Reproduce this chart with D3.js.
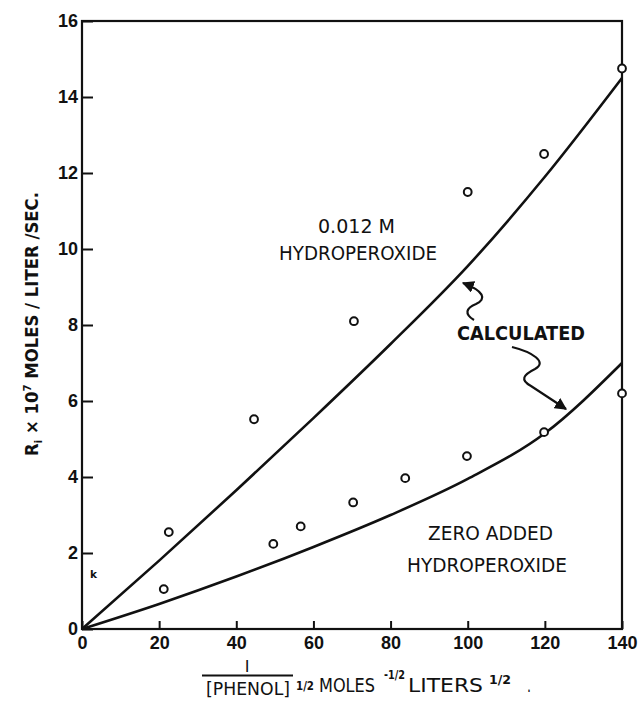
<!DOCTYPE html>
<html>
<head>
<meta charset="utf-8">
<script src="https://cdn.jsdelivr.net/npm/d3@7"></script>
<style>
  body { margin: 0; background: #fff; }
  svg { display: block; }
  .axis text { font-family: "Liberation Sans", Arial, sans-serif; font-weight: bold; font-size: 17px; fill: #111; }
  .axis line { stroke: #111; stroke-width: 2; }
  .lbl { font-family: "DejaVu Sans", "Liberation Sans", sans-serif; fill: #111; }
</style>
</head>
<body>
<div id="chart"></div>
<script>
// axis ticks
var xTicks = [0, 20, 40, 60, 80, 100, 120, 140];
var yTicks = [0, 2, 4, 6, 8, 10, 12, 14, 16];

// measured points, 0.012 M hydroperoxide
var hydroX = [22.5, 44.6, 70.5, 100, 119.8, 140];
var hydroY = [2.55, 5.52, 8.1, 11.5, 12.5, 14.75];

// measured points, zero added hydroperoxide
var zeroX = [21.2, 49.6, 56.7, 70.3, 83.8, 99.8, 119.8, 140];
var zeroY = [1.05, 2.24, 2.7, 3.33, 3.97, 4.55, 5.18, 6.2];

// calculated curves
var calcX = [0, 20, 40, 60, 80, 100, 120, 140];
var calcHydro = [0, 1.8, 3.65, 5.55, 7.5, 9.55, 11.9, 14.5];
var calcZero = [0, 0.66, 1.38, 2.16, 3.0, 3.95, 5.15, 7.0];

var W = 639, H = 701;
var margin = {top: 21, right: 17, bottom: 72, left: 82};
var width = W - margin.left - margin.right,
    height = H - margin.top - margin.bottom;

var svg = d3.select('#chart').append('svg')
  .attr('width', W)
  .attr('height', H);

var defs = svg.append('defs');
defs.append('marker')
  .attr('id', 'head')
  .attr('viewBox', '0 0 10 10')
  .attr('refX', 9).attr('refY', 5)
  .attr('markerWidth', 5.5).attr('markerHeight', 5.5)
  .attr('markerUnits', 'strokeWidth')
  .attr('orient', 'auto')
  .append('path')
  .attr('d', 'M0,0 L10,5 L0,10 z')
  .attr('fill', '#111');

var g = svg.append('g')
  .attr('transform', 'translate(' + margin.left + ',' + margin.top + ')');

// scales
var x = d3.scaleLinear().domain([0, 140]).range([0, width]);
var y = d3.scaleLinear().domain([0, 16]).range([height, 0]);

// x axis, ticks pointing inward
g.append('g')
  .attr('class', 'x-axis axis')
  .attr('transform', 'translate(0,' + height + ')')
  .call(d3.axisBottom(x).tickValues(xTicks).tickSize(-8).tickSizeOuter(0).tickPadding(7))
  .call(function(s) { s.select('.domain').remove(); })
  .selectAll('text').style('font-size', '18px');

// y axis
g.append('g')
  .attr('class', 'y-axis axis')
  .call(d3.axisLeft(y).tickValues(yTicks).tickSize(-11).tickSizeOuter(0).tickPadding(4))
  .call(function(s) { s.select('.domain').remove(); })
  .selectAll('text').style('font-size', '18px');

// frame
g.append('rect')
  .attr('x', 0).attr('y', 0)
  .attr('width', width).attr('height', height)
  .attr('fill', 'none')
  .attr('stroke', '#111')
  .attr('stroke-width', 2.2);

// calculated curves
var line = d3.line()
  .x(function(d) { return x(d[0]); })
  .y(function(d) { return y(d[1]); })
  .curve(d3.curveMonotoneX);

g.append('path')
  .datum(d3.zip(calcX, calcHydro))
  .attr('d', line)
  .attr('fill', 'none').attr('stroke', '#111').attr('stroke-width', 2.6);

g.append('path')
  .datum(d3.zip(calcX, calcZero))
  .attr('d', line)
  .attr('fill', 'none').attr('stroke', '#111').attr('stroke-width', 2.6);

// measured points
var pts = d3.zip(hydroX, hydroY).concat(d3.zip(zeroX, zeroY));
g.selectAll('.pt')
  .data(pts)
  .enter().append('circle')
  .attr('class', 'pt')
  .attr('cx', function(d) { return x(d[0]); })
  .attr('cy', function(d) { return y(d[1]); })
  .attr('r', 3.9)
  .attr('fill', '#fff')
  .attr('stroke', '#111')
  .attr('stroke-width', 2);

// labels
function label(txt, px, py, len, size, weight) {
  svg.append('text')
    .attr('class', 'lbl')
    .attr('x', px).attr('y', py)
    .attr('textLength', len)
    .attr('lengthAdjust', 'spacingAndGlyphs')
    .style('font-size', size + 'px')
    .style('font-weight', weight || 'normal')
    .text(txt);
}
label('0.012 M', 318, 233, 77, 20);
label('HYDROPEROXIDE', 279, 260, 158, 20);
label('CALCULATED', 457, 340, 128, 19, 'bold');
label('ZERO ADDED', 428, 540, 125, 20);
label('HYDROPEROXIDE', 407, 572, 160, 20);
label('k', 90, 578, 7, 11, 'bold');

// wavy arrows from CALCULATED
svg.append('path')
  .attr('d', 'M474,320 C464,314 466,308 476,304 C487,299 484,291 463,283')
  .attr('fill', 'none').attr('stroke', '#111').attr('stroke-width', 2.2)
  .attr('marker-end', 'url(#head)');
svg.append('path')
  .attr('d', 'M512,347 C532,352 548,362 535,369 C523,375 520,380 531,386 L566,409')
  .attr('fill', 'none').attr('stroke', '#111').attr('stroke-width', 2.2)
  .attr('marker-end', 'url(#head)');

// y axis title
var yt = svg.append('text')
  .attr('class', 'lbl')
  .attr('transform', 'translate(38,456) rotate(-90)')
  .attr('textLength', 264)
  .attr('lengthAdjust', 'spacingAndGlyphs')
  .style('font-size', '18px')
  .style('font-weight', 'bold');
yt.append('tspan').text('R');
yt.append('tspan').attr('dy', 4).style('font-size', '11px').text('i');
yt.append('tspan').attr('dy', -4).text(' \u00d7 10');
yt.append('tspan').attr('dy', -7).style('font-size', '11px').text('7');
yt.append('tspan').attr('dy', 7).text(' MOLES / LITER /SEC.');

// x axis title
svg.append('text').attr('class', 'lbl')
  .attr('x', 247).attr('y', 672)
  .attr('text-anchor', 'middle')
  .style('font-size', '16px')
  .text('I');
svg.append('line')
  .attr('x1', 202).attr('x2', 293)
  .attr('y1', 675.5).attr('y2', 675.5)
  .attr('stroke', '#111').attr('stroke-width', 2);
label('[PHENOL]', 206, 695, 84, 18);
label('1/2', 296, 690, 18, 13, 'bold');
label('MOLES', 319, 692, 56, 19);
label('-1/2', 384, 679, 21, 12, 'bold');
label('LITERS', 408, 692, 75, 19);
label('1/2', 489, 684, 22, 13, 'bold');
label('.', 527, 692, 4, 19);
</script>
</body>
</html>
